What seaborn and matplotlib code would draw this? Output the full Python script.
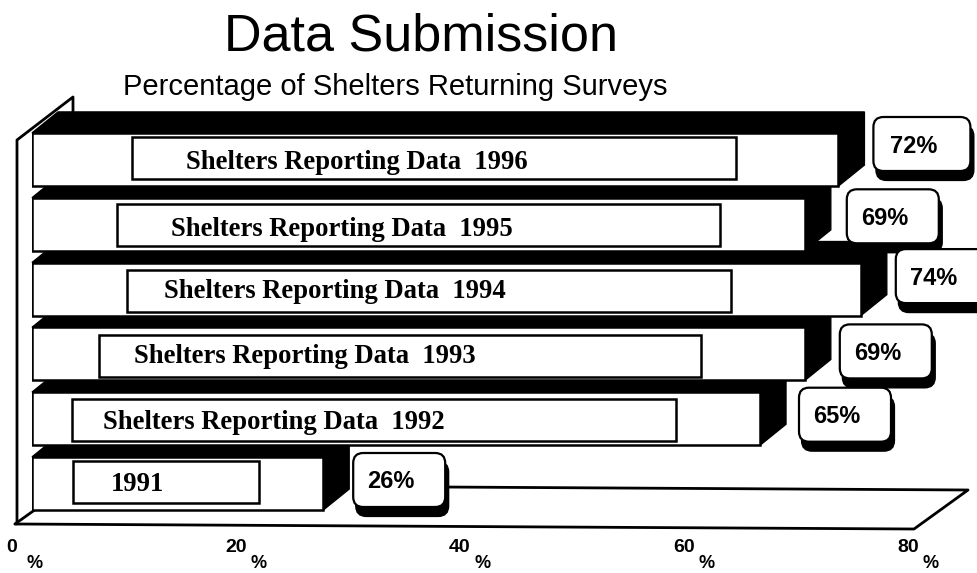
import pandas as pd
import matplotlib
matplotlib.use('Agg')
import matplotlib.pyplot as plt
import seaborn as sns
from matplotlib.patches import FancyBboxPatch, Polygon, Rectangle

# values
years = ['1996', '1995', '1994', '1993', '1992', '1991']
percent = [72, 69, 74, 69, 65, 26]
bar_names = ['Shelters Reporting Data  1996', 'Shelters Reporting Data  1995',
             'Shelters Reporting Data  1994', 'Shelters Reporting Data  1993',
             'Shelters Reporting Data  1992', '1991']
x_ticks = [0, 20, 40, 60, 80]

# layout, all in pixels of the 978x573 picture
inner_left = [132, 117, 127, 99, 72, 73]
inner_right = [736, 720, 731, 701, 676, 259]
inner_shift = [-1.5, 0.7, 2, 2, 1.3, -1.5]
name_left = [186, 171, 164, 134, 103, 111]
name_shift = [2.5, 4.7, 2, 3, 4, 1.5]
box_gap = [35, 42, 35, 35, 39, 30]
box_shift = [-15.5, -8, -13, -2.5, -4, -3.5]
box_width = [97, 92, 92, 92, 92, 92]
PX_X = 11.2    # pixels per percent
PX_Y = 64.8    # pixels per category
LEFT = 32
TOP = 159.5 - PX_Y / 2
SIDE_X = 26 / PX_X
SIDE_Y = 21 / PX_Y

sns.set_style('white')
plt.rcParams['font.family'] = ['Liberation Sans', 'DejaVu Sans']
plt.rcParams['text.color'] = 'black'

df = pd.DataFrame({'year': years, 'percent': percent})

fig = plt.figure(figsize=(9.78, 5.73), dpi=100)
ax = fig.add_axes([LEFT / 978, 1 - (TOP + 6 * PX_Y) / 573, 80 * PX_X / 978, 6 * PX_Y / 573])
ax.patch.set_alpha(0)

sns.barplot(data=df, x='percent', y='year', order=years, orient='h', width=0.82,
            color='white', saturation=1, edgecolor='black', linewidth=1.8, ax=ax)
ax.set_xlim(0, 80)
ax.set_ylim(5.5, -0.5)
ax.set_xlabel('')
ax.set_ylabel('')
ax.set_yticks([])
sns.despine(ax=ax, left=True, bottom=True)


def data_x(px):
    return (px - LEFT) / PX_X


def data_y(py):
    return (py - TOP) / PX_Y - 0.5


# floor and left wall
floor_x = [data_x(15), data_x(914), data_x(968), data_x(440)]
floor_y = [data_y(524), data_y(529), data_y(490), data_y(487)]
ax.plot(floor_x, floor_y, color='black', lw=2, clip_on=False, zorder=1)
ax.plot([data_x(15), data_x(36)], [data_y(524), data_y(509)], color='black', lw=2, clip_on=False, zorder=1)
ax.plot([data_x(17), data_x(17), data_x(73), data_x(73)],
        [data_y(524), data_y(140), data_y(97), data_y(114)],
        color='black', lw=2, clip_on=False, zorder=1)

# black top and side of each bar, lower bars go behind upper ones
for i, bar in enumerate(ax.patches[:len(years)]):
    base = 2 + 3 * (len(years) - i)
    bar.set_zorder(base + 1)
    y0 = bar.get_y()
    y1 = y0 + bar.get_height()
    w = bar.get_width()
    pts = [(0, y0), (SIDE_X, y0 - SIDE_Y), (w + SIDE_X, y0 - SIDE_Y),
           (w + SIDE_X, y1 - SIDE_Y), (w, y1), (w, y0)]
    ax.add_patch(Polygon(pts, closed=True, fc='black', ec='black', lw=1, clip_on=False, zorder=base))

    # white label strip on the bar face
    h = 42 / PX_Y
    ax.add_patch(Rectangle((data_x(inner_left[i]), i + inner_shift[i] / PX_Y - h / 2),
                           (inner_right[i] - inner_left[i]) / PX_X, h,
                           fc='white', ec='black', lw=1.8, zorder=base + 2))
    ax.text(data_x(name_left[i]), i + name_shift[i] / PX_Y, bar_names[i], family='Liberation Serif', weight='bold',
            fontsize=19.2, ha='left', va='center', zorder=base + 2)

# value boxes with a shadow
for i, v in enumerate(percent):
    bw = box_width[i] / PX_X
    bh = 54 / PX_Y
    x0 = v + box_gap[i] / PX_X
    y0 = i + box_shift[i] / PX_Y - bh / 2
    for dx, dy, fc, z in [(3, 9, 'black', 30), (0, 0, 'white', 31)]:
        ax.add_patch(FancyBboxPatch((x0 + dx / PX_X, y0 + dy / PX_Y), bw, bh,
                                    boxstyle='round,pad=0,rounding_size=0.9', mutation_aspect=PX_X / PX_Y,
                                    fc=fc, ec='black', lw=1.6, clip_on=False, zorder=z))
    ax.text(x0 + (box_width[i] / 2 - 8) / PX_X, i + (box_shift[i] + 2) / PX_Y, f'{v}%', weight='bold',
            fontsize=17, ha='center', va='center', zorder=32)

# axis numbers, each one with its percent sign set down and to the right
ax.set_xticks(x_ticks)
ax.set_xticklabels([])
ax.tick_params(axis='x', length=0)
for t in x_ticks:
    ax.annotate(str(t), xy=(t, 5.5), xycoords='data', xytext=(-20, -32), textcoords='offset pixels',
                weight='bold', fontsize=14, ha='center', va='center', annotation_clip=False)
    ax.annotate('%', xy=(t, 5.5), xycoords='data', xytext=(3, -48), textcoords='offset pixels',
                weight='bold', fontsize=13, ha='center', va='center', annotation_clip=False)

fig.text(421 / 978, 1 - 37 / 573, 'Data Submission', fontsize=37.5, ha='center', va='center')
fig.text(395 / 978, 1 - 87 / 573, 'Percentage of Shelters Returning Surveys', fontsize=21, ha='center', va='center')

fig.savefig('out.png', dpi=100, facecolor='white')
